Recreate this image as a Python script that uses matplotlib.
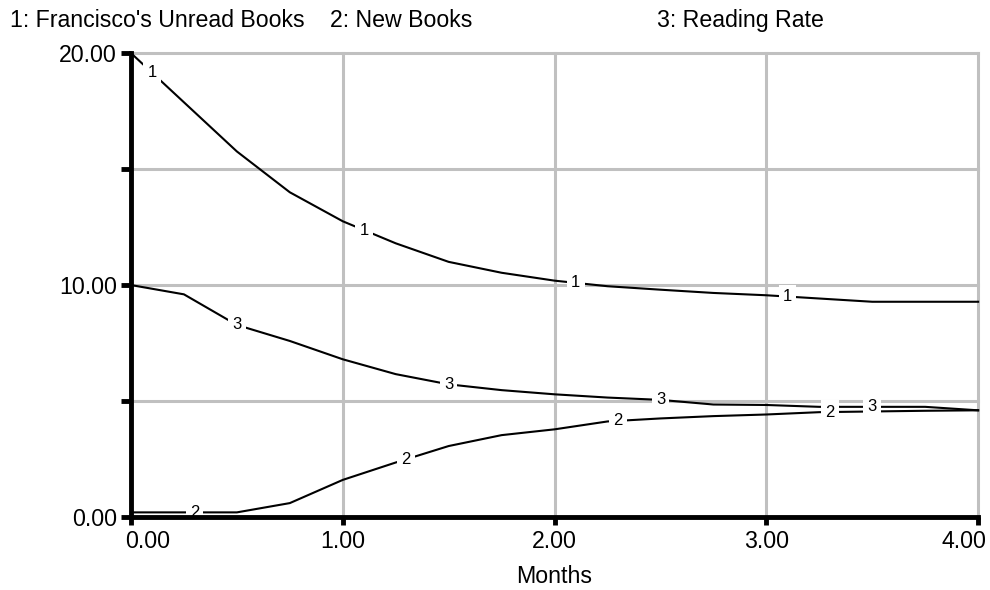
import numpy as np
import matplotlib
matplotlib.use("Agg")
import matplotlib.pyplot as plt
from matplotlib.transforms import ScaledTranslation

plt.rcParams['font.family'] = ['Liberation Sans', 'DejaVu Sans']

# data
months = [0.0, 0.25, 0.5, 0.75, 1.0, 1.25, 1.5, 1.75, 2.0,
          2.25, 2.5, 2.75, 3.0, 3.25, 3.5, 3.75, 4.0]
unread_books = [20.0, 17.88, 15.76, 14.0, 12.75, 11.8, 11.0, 10.53, 10.19,
                9.95, 9.8, 9.66, 9.56, 9.42, 9.28, 9.28, 9.28]
new_books = [0.2, 0.2, 0.2, 0.6, 1.6, 2.35, 3.06, 3.53, 3.78,
             4.12, 4.25, 4.35, 4.42, 4.52, 4.55, 4.58, 4.6]
reading_rate = [10.0, 9.6, 8.28, 7.59, 6.8, 6.16, 5.72, 5.47, 5.29,
                5.15, 5.05, 4.85, 4.83, 4.75, 4.75, 4.75, 4.6]

series_names = ["1: Francisco's Unread Books", "2: New Books", "3: Reading Rate"]
label_starts = [0.1, 0.3, 0.5]  # where the first number label sits on each curve

x_ticks = [0, 1, 2, 3, 4]
y_ticks = [0, 5, 10, 15, 20]
y_labelled = [0, 10, 20]

FS = 16.7


def main():
    fig = plt.figure(figsize=(9.9, 5.9), dpi=100)
    ax = fig.add_axes([0.1323, 0.1237, 0.8557, 0.7863])

    all_series = [unread_books, new_books, reading_rate]
    for i, values in enumerate(all_series):
        ax.plot(months, values, color='black', lw=1.5, zorder=3, clip_on=False)
        for k in range(4):
            t = label_starts[i] + k
            y = np.interp(t, months, values)
            ax.text(t, y, str(i + 1), fontsize=12, ha='center', va='center', zorder=4,
                    bbox=dict(boxstyle='square,pad=0.25', facecolor='white', edgecolor='none'))

    ax.set_xlim(0, 4)
    ax.set_ylim(0, 20)
    ax.set_xticks(x_ticks)
    ax.set_xticklabels([f"{v:.2f}" for v in x_ticks])
    ax.set_yticks(y_ticks)
    ax.set_yticklabels([f"{v:.2f}" if v in y_labelled else "" for v in y_ticks])
    ax.tick_params(axis='both', direction='out', length=6, width=3.5,
                   colors='black', labelsize=FS, pad=3)
    ax.tick_params(axis='y', length=7)

    # end labels are pushed inward like in the original
    xlabels = ax.get_xticklabels()
    xlabels[0].set_transform(xlabels[0].get_transform() +
                             ScaledTranslation(0.17, 0, fig.dpi_scale_trans))
    xlabels[-1].set_transform(xlabels[-1].get_transform() +
                              ScaledTranslation(-0.14, 0, fig.dpi_scale_trans))

    ax.grid(True, color='#c0c0c0', lw=2.2)
    for gl in ax.get_xgridlines() + ax.get_ygridlines():
        gl.set_clip_on(False)
    ax.set_axisbelow(True)

    ax.spines['top'].set_visible(False)
    ax.spines['right'].set_visible(False)
    ax.spines['left'].set_linewidth(3.5)
    ax.spines['bottom'].set_linewidth(3.5)
    ax.spines['left'].set_zorder(5)
    ax.spines['bottom'].set_zorder(5)

    ax.set_xlabel("Months", fontsize=FS, labelpad=9)

    # legend line at the top of the figure
    legend_x = [10, 330, 657]
    for name, px in zip(series_names, legend_x):
        fig.text(px / 990, 1 - 27 / 590, name, fontsize=FS, ha='left', va='baseline')

    fig.savefig("out.png", dpi=100)


if __name__ == "__main__":
    main()
